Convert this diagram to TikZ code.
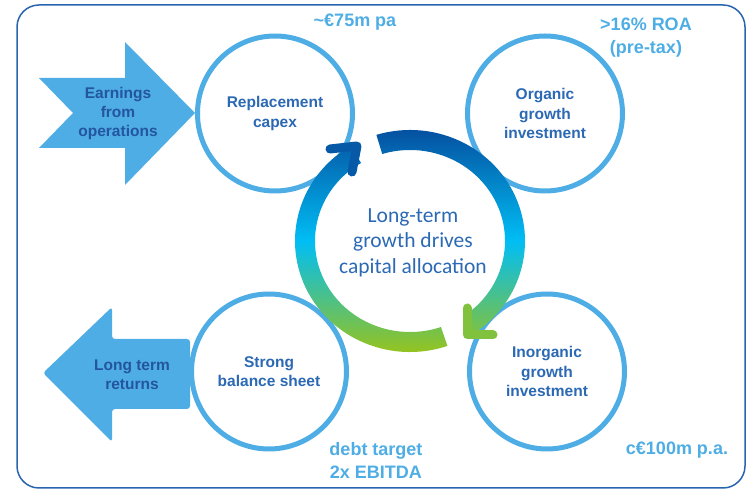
\documentclass[tikz,border=0pt]{standalone}
\usepackage{fontspec}
\setmainfont{Liberation Sans}
\newfontfamily\hubfont{Carlito}
\usepackage{tikz}
\definecolor{potblue}{RGB}{78,173,228}
\definecolor{inkblue}{RGB}{44,105,180}
\definecolor{deepblue}{RGB}{35,85,160}
\definecolor{frameblue}{RGB}{40,100,175}
\definecolor{ringtop}{RGB}{5,80,160}
\definecolor{ringmid}{RGB}{0,190,245}
\definecolor{ringbot}{RGB}{150,195,30}
\tikzstyle{pot} = [circle, draw=potblue, line width=5pt, fill=white, minimum size=155pt, inner sep=0pt, text=inkblue, align=center, font=\bfseries\fontsize{15.5}{19.5}\selectfont]
\tikzstyle{flow} = [fill=potblue]
\tikzstyle{flowtext} = [text=deepblue, align=center, font=\bfseries\fontsize{15.5}{19}\selectfont]
\tikzstyle{remark} = [text=potblue, align=center, font=\bfseries\fontsize{18}{23}\selectfont]
\tikzstyle{hubtext} = [text=inkblue, align=center, font=\hubfont\fontsize{21.5}{25.5}\selectfont]
\tikzstyle{chevron} = [line width=9pt, line cap=round, line join=round]
\tikzstyle{frame} = [draw=frameblue, line width=1.5pt, rounded corners=22pt]
\newcommand{\potnode}[2]{
node (#1) [pot] {#2}}
\newcommand{\potnote}[2]{
node (#1) [remark] {#2}}

\begin{document}
\begin{tikzpicture}[x=1pt, y=1pt]
		\useasboundingbox (0,0) rectangle (748,490);
		\draw [frame] (17,2) rectangle (745,485);
		
		% Draw block arrows
		\path [flow] (39,412) -- (125,412) -- (125,448) -- (195,377) -- (125,305) -- (125,342) -- (39,342) -- (73,377) -- cycle;
		\path [flow, rounded corners=3pt] (43,117) -- (112,183) -- (112,151) -- (190,151) -- (190,81) -- (112,81) -- (112,48) -- cycle;
		\node (earnings) [flowtext] at (118,377) {Earnings\\from\\operations};
		\node (returns) [flowtext] at (132,115) {Long term\\returns};
		
		% Draw diagram elements
		\path (275,376.5) \potnode{capex}{Replacement\\capex};
		\path (capex)+(270,0) \potnode{organic}{Organic\\growth\\investment};
		\path (capex)+(-6,-258) \potnode{balance}{Strong\\balance sheet};
		\path (organic)+(2,-258) \potnode{inorganic}{Inorganic\\growth\\investment};
		
		% Draw the cycle
		\coordinate (hub) at (410,249);
		\begin{scope}[shift={(hub)}]
			\clip (107:115 and 111) arc [start angle=107, end angle=-56, x radius=115, y radius=111]
				-- (-56:95 and 91) arc [start angle=-56, end angle=107, x radius=95, y radius=91] -- cycle
				(-71:115 and 111) arc [start angle=-71, end angle=-239, x radius=115, y radius=111]
				-- (-239:95 and 91) arc [start angle=-239, end angle=-71, x radius=95, y radius=91] -- cycle;
			\shade [top color=ringtop, bottom color=ringbot, middle color=ringmid] (-116,-112) rectangle (116,112);
		\end{scope}
		\draw [chevron, draw=ringtop!92!ringmid] (330,341) -- (357,344) -- (352,318);
		\draw [chevron, draw=ringbot!85!ringmid] (467,182) -- (467,155) -- (493,155);
		\node (drives) [hubtext] at (413,247.5) {Long-term\\growth drives\\capital allocation};
		
		% Draw figures beside the pots
		\path (capex)+(80,91.5) \potnote{capexnote}{\textasciitilde€75m pa};
		\path (organic)+(101,76) \potnote{organicnote}{>16\% ROA\\(pre-tax)};
		\path (balance)+(107,-88.5) \potnote{balancenote}{debt target\\2x EBITDA};
		\path (inorganic)+(130,-78.5) \potnote{inorganicnote}{c€100m p.a.};
		
	\end{tikzpicture}
\end{document}
